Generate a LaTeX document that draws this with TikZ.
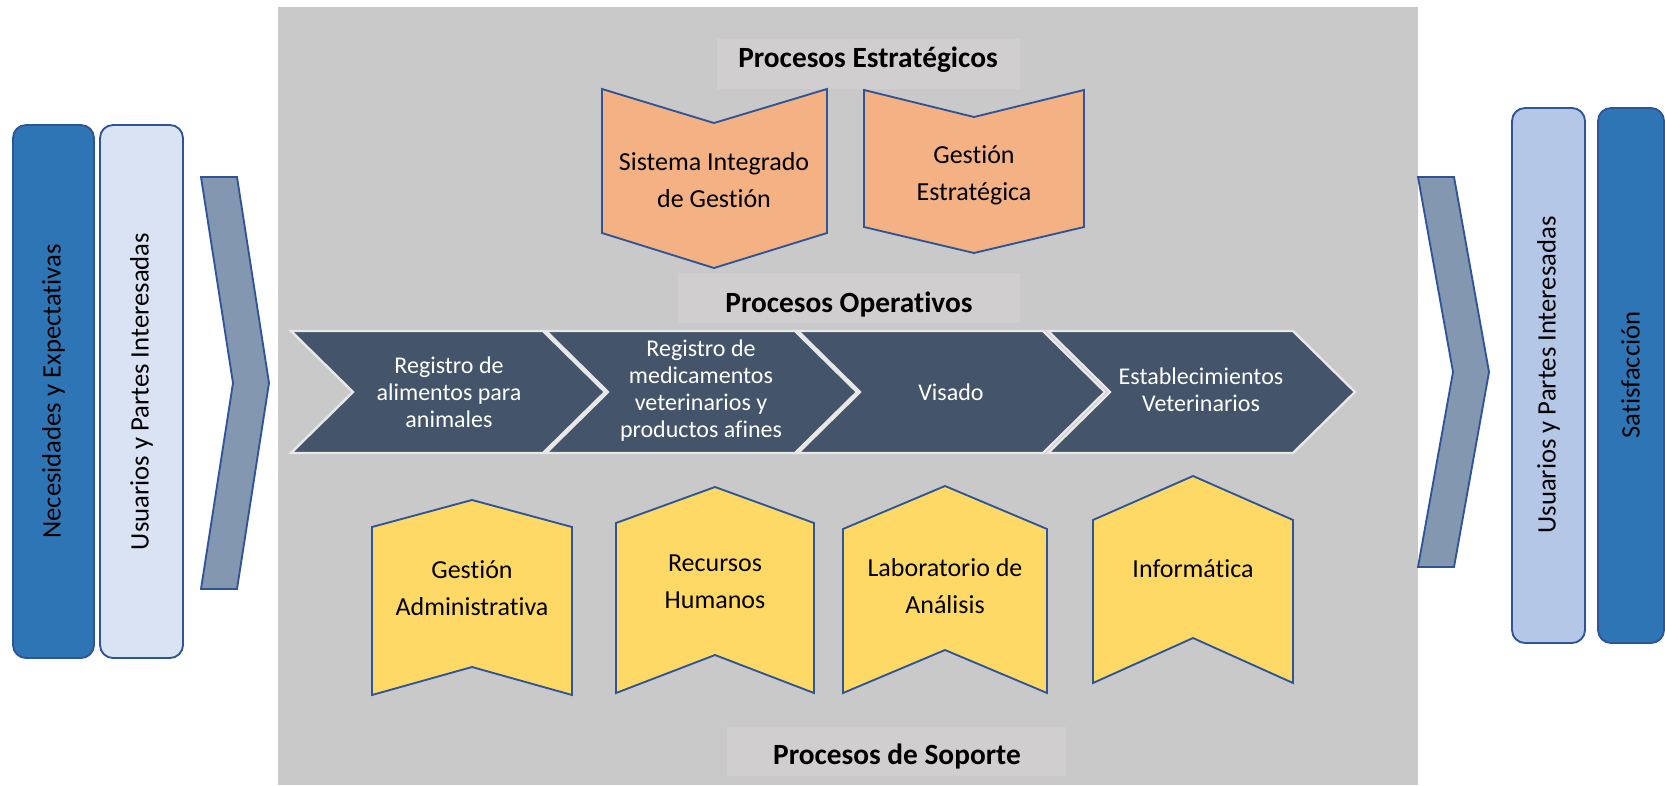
\documentclass[tikz,border=0pt]{standalone}
\usepackage{fontspec}
\setmainfont{Carlito}[Ligatures=NoCommon]
\definecolor{bggray}{RGB}{201,201,201}
\definecolor{lblgray}{RGB}{208,206,206}
\definecolor{darkblue}{RGB}{46,117,182}
\definecolor{bordblue}{RGB}{47,85,151}
\definecolor{lightblueA}{RGB}{218,227,243}
\definecolor{lightblueB}{RGB}{180,199,231}
\definecolor{chevgray}{RGB}{132,151,176}
\definecolor{opnavy}{RGB}{68,84,106}
\definecolor{opline}{RGB}{232,232,232}
\definecolor{orangeF}{RGB}{244,177,131}
\definecolor{yellowF}{RGB}{255,217,102}
\tikzset{
  sidebox/.style={draw=bordblue, line width=1.4pt, rounded corners=9.75pt},
  sidechev/.style={draw=bordblue, line width=1.4pt, fill=chevgray, line join=miter},
  opchev/.style={draw=opline, line width=1.8pt, fill=opnavy, line join=miter},
  stratshape/.style={draw=bordblue, line width=1.4pt, fill=orangeF, line join=miter},
  supshape/.style={draw=bordblue, line width=1.4pt, fill=yellowF, line join=miter},
  lblbox/.style={fill=lblgray, draw=none},
  lbltext/.style={anchor=base, inner sep=0pt, font=\fontsize{22pt}{26pt}\selectfont\bfseries},
  optext/.style={text=white, align=center, inner sep=0pt, font=\fontsize{18pt}{20.25pt}\selectfont},
  shapetext/.style={align=center, inner sep=0pt, font=\fontsize{19.5pt}{27.75pt}\selectfont},
  sidetext/.style={rotate=90, inner sep=0pt, font=\fontsize{20pt}{24pt}\selectfont}
}
\begin{document}
\begin{tikzpicture}[x=0.75pt,y=-0.75pt]
\useasboundingbox (0,0) rectangle (1665,785);
\fill[white] (0,0) rectangle (1665,785);
% gray background
\fill[bggray] (278,7) rectangle (1418,785);

% left side boxes
\draw[sidebox, fill=darkblue] (13,125) rectangle (94,658);
\draw[sidebox, fill=lightblueA] (100,125) rectangle (183,658);
\node[sidetext] (nec) at (53.5,391.5) {Necesidades y Expectativas};
\node[sidetext] (usl) at (141.5,391.5) {Usuarios y Partes Interesadas};
\draw[sidechev] (201,177) -- (237,177) -- (269,383) -- (237,589) -- (201,589) -- (233,383) -- cycle;

% right side boxes
\draw[sidechev] (1418,177) -- (1454,177) -- (1489,372) -- (1454,567) -- (1418,567) -- (1453,372) -- cycle;
\draw[sidebox, fill=lightblueB] (1512,108) rectangle (1585,643);
\draw[sidebox, fill=darkblue] (1598,108) rectangle (1664,643);
\node[sidetext] (usr) at (1548.5,375) {Usuarios y Partes Interesadas};
\node[sidetext] (sat) at (1630.5,375) {Satisfacción};

% labels
\fill[lblbox] (717,39) rectangle (1020,89);
\node[lbltext] (pe) at (868,67) {Procesos Estratégicos};
\fill[lblbox] (678,273) rectangle (1020,323);
\node[lbltext] (po) at (849,312) {Procesos Operativos};
\fill[lblbox] (727,727) rectangle (1066,776);
\node[lbltext] (ps) at (897,764) {Procesos de Soporte};

% strategic
\draw[stratshape] (602,89) -- (714,123) -- (827,89) -- (827,233) -- (714,268) -- (602,233) -- cycle;
\node[shapetext] (sig) at (714,180) {Sistema Integrado\\de Gestión};
\draw[stratshape] (864,90) -- (974,117) -- (1084,90) -- (1084,227) -- (974,253) -- (864,227) -- cycle;
\node[shapetext] (ge) at (974,175) {Gestión\\Estratégica};

% operative chevrons
\draw[opchev] (291,331) -- (543,331) -- (605,392) -- (543,453) -- (291,453) -- (353,392) -- cycle;
\draw[opchev] (546,331) -- (795,331) -- (857,392) -- (795,453) -- (546,453) -- (608,392) -- cycle;
\draw[opchev] (798,331) -- (1043,331) -- (1105,392) -- (1043,453) -- (798,453) -- (860,392) -- cycle;
\draw[opchev] (1048,331) -- (1293,331) -- (1355,392) -- (1293,453) -- (1048,453) -- (1110,392) -- cycle;
\node[optext] (op1) at (449,392) {Registro de\\alimentos para\\animales};
\node[optext] (op2) at (701,391) {Registro de\\medicamentos\\veterinarios y\\productos afines};
\node[optext] (op3) at (951,392) {Visado};
\node[optext] (op4) at (1201,390) {Establecimientos\\Veterinarios};

% support
\draw[supshape] (372,527) -- (472,500) -- (572,527) -- (572,695) -- (472,667) -- (372,695) -- cycle;
\node[shapetext] (ga) at (472,588) {Gestión\\Administrativa};
\draw[supshape] (616,523) -- (715,487) -- (814,523) -- (814,693) -- (715,655) -- (616,693) -- cycle;
\node[shapetext] (rh) at (715,582) {Recursos\\Humanos};
\draw[supshape] (843,529) -- (945,486) -- (1047,529) -- (1047,693) -- (945,650) -- (843,693) -- cycle;
\node[shapetext] (la) at (945,586) {Laboratorio de\\Análisis};
\draw[supshape] (1093,520) -- (1193,476) -- (1293,520) -- (1293,683) -- (1193,638) -- (1093,683) -- cycle;
\node[shapetext] (inf) at (1193,569) {Informática};
\end{tikzpicture}
\end{document}
